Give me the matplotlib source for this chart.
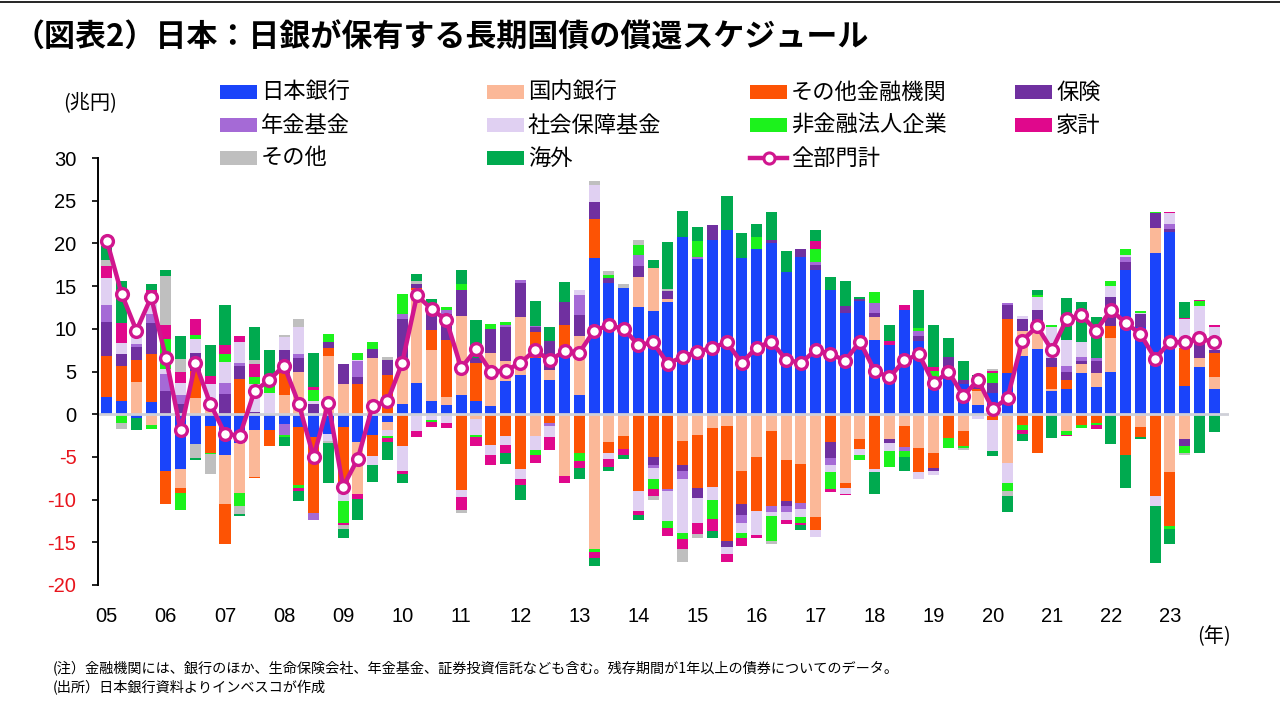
import matplotlib
matplotlib.use("Agg")
import matplotlib.pyplot as plt
from matplotlib.patches import Rectangle
from matplotlib.lines import Line2D
import numpy as np

JP = ['Noto Sans CJK JP', 'DejaVu Sans']
NUM = ['Liberation Sans', 'DejaVu Sans']

year_labels = ['05', '06', '07', '08', '09', '10', '11', '12', '13', '14',
               '15', '16', '17', '18', '19', '20', '21', '22', '23']

series_names = ['日本銀行', '国内銀行', 'その他金融機関', '保険', '年金基金',
                '社会保障基金', '非金融法人企業', '家計', 'その他', '海外']
series_colors = ['#1a44fa', '#fbb898', '#fd5304', '#7030a0', '#a56ad6',
                 '#e0d0f2', '#1cf21c', '#e0088c', '#bfbfbf', '#00aa4f']
line_name = '全部門計'
line_color = '#d0168e'

boj = [2.0, 1.6, -0.5, 1.4, -6.7, -6.4, -3.5, -1.4, -4.8, -3.4, -1.8, -1.8, -1.2,
       -1.5, -2.65, -2.3, -1.5, -3.2, -2.4, -0.9, 1.25, 3.7, 1.5, 1.1, 2.3, 1.6,
       1.0, 3.9, 4.6, 6.6, 4.0, 7.0, 2.3, 18.3, 15.4, 14.8, 12.6, 12.1, 13.1, 20.8,
       18.2, 20.4, 21.6, 18.3, 19.4, 20.0, 16.7, 18.4, 16.9, 14.5, 11.9, 13.2, 8.7,
       8.1, 12.2, 8.6, 4.3, 4.7, 3.5, 1.1, 2.5, 4.8, 6.8, 7.6, 2.7, 3.0, 4.8, 3.2,
       4.9, 16.9, 10.2, 18.9, 21.3, 3.3, 5.5, 3.0]
dom_bank = [0, 0, 3.8, -1.25, 0, -2.2, 1.9, 1.5, -5.7, -5.8, -5.6, 0, 2.3,
            5.0, 0, 6.8, 3.5, -6.2, 6.6, -0.9, 5.35, 10.8, 6.0, 0.9, 9.2, -0.6,
            6.2, 2.3, 6.8, -2.5, 1.2, -7.2, 6.9, -15.8, -3.2, -2.5, 3.5, 5.0, 0.4, -3.1,
            -2.4, -1.6, -1.4, -6.6, -5.0, -2.0, -5.35, -5.8, -12.0, 0, -8.0, -2.9, 2.7,
            -2.9, -1.4, -3.9, -4.5, 0, -2.0, 1.6, 0, -5.7, 3.0, 2.1, 0.3, -2.0, 1.1, 1.6,
            4.0, 0, -1.5, 2.9, -6.8, -2.9, 1.1, 1.3]
other_fin = [4.8, 4.1, 2.6, 5.6, -3.8, -0.6, 3.2, -3.1, -4.7, 4.1, -0.1, -1.9, 2.5,
             -6.8, -8.95, 1.0, -7.3, 3.5, -2.5, 4.6, -3.7, 0.3, 2.4, 6.7, -8.9, 4.4,
             -3.6, -2.6, -6.45, 3.0, -1.0, 3.5, -4.6, 4.5, -1.4, -1.6, -9.0, -5.0, -8.8, -2.8,
             -6.3, -6.9, -13.5, -3.9, -6.3, -8.7, -4.85, -4.55, -1.6, -3.2, -0.6, -1.2, -6.45,
             0, -2.4, -2.9, -1.75, -2.8, -1.7, 0.3, -0.7, 6.3, -1.25, -4.5, 2.5, 1.0, -1.25, -1.0,
             1.4, -4.8, -1.2, -9.6, -6.3, 4.5, 0, 2.9]
insurance = [4.0, 1.3, 1.5, 3.7, 2.7, 1.2, 2.1, 0, 2.4, 1.6, 0.2, 0, 2.7,
             1.6, 1.2, 0.6, 2.4, 0.9, 1.0, 1.7, 4.5, 0.4, 2.2, 3.0, 3.1, 0.6,
             2.8, 4.0, 4.0, 0.6, 3.4, 2.6, 2.4, 2.1, 0.5, 0, 1.2, -0.9, 0.95, -0.8,
             -1.1, 1.7, -0.7, -1.3, 0, 0.4, -0.5, 0.9, 0.6, -1.9, 0.8, 0.3, 0.5,
             -0.5, 0, 0.5, -0.45, 2.0, 0.5, 0.8, 1.1, 1.7, 1.3, 2.5, 1.1, 1.0, 0.35, 1.4,
             3.45, 0.9, 1.5, 1.8, 0.4, -0.8, 1.7, 0.3]
pension = [2.0, 0, 0.3, 1.0, 2.0, 1.1, 0, 0, 1.2, 0.3, 0, 0, -1.2,
           0.4, -0.8, 0, 0, 1.8, 0, 0, 0.6, 0, 0, 0.5, 0, 0,
           0, 0.3, 0.3, 0.15, -0.4, 0, 2.4, 0, 0, 0, 1.4, -0.35, -0.2, -0.9,
           0.2, 0, 0, -0.9, 0, -0.7, -0.8, -0.75, 0.3, -0.8, 0, 0, 1.1,
           0, -0.5, 0.7, 0, 0, 0, 0, 0, 0.2, 0, 0, 0, 0.7, 0.4, 0.4,
           0, 0.6, 0, 0, 0.6, 0, 0, 0]
soc_sec = [3.1, 1.3, 2.0, 1.3, 0.6, 1.4, 1.6, 2.0, 2.5, 2.5, 3.3, 2.5, 1.5,
           3.2, 0.4, -0.8, -1.4, 0.2, -1.0, -0.7, -2.9, -2.0, -0.7, -1.0, -0.8, -1.8,
           -1.2, -1.0, -1.15, -1.7, -1.25, 0, 0.6, 1.9, -0.6, 0, -2.3, -1.35, -3.5, -6.3,
           -2.9, -1.5, -0.8, -1.2, -2.8, -0.5, -0.9, -0.9, -0.8, -0.9, -0.8, -0.7, -0.35,
           -0.9, 0, -0.8, -0.4, 0, 0, -0.6, -3.6, -2.3, 0.4, 1.5, 3.6, 3.0, 1.85, 0,
           1.25, 0.2, 0.2, -1.1, 1.3, 3.3, 4.4, 2.7]
nonfin = [0, -1.0, 0, -0.45, 3.5, -2.05, 0.5, -0.2, 1.0, -1.5, 0.8, 1.0, -0.3,
          -0.3, 1.2, 1.0, -2.5, 0.8, 0.9, -0.3, 2.4, 0, -0.2, 0.4, 0.6, -0.3,
          0.6, 0.3, 0, -0.6, 0, 0, -0.9, -0.3, 0.4, 0, 1.1, -1.2, -0.8, -0.7,
          1.9, -2.3, 0, -0.6, 1.3, -3.0, 0, -0.7, 1.5, -2.0, 0, -0.6, 1.3,
          -1.9, -0.7, 0.3, 0.8, -1.1, -0.2, 0, 1.2, -1.0, -0.65, 0.3, 0.2, -0.4, -0.35, -0.3,
          0.6, 0.7, 0.2, 0.1, -0.4, -0.8, 0.5, 0]
household = [1.5, 2.4, 0, 1.6, 1.7, 1.3, 1.8, 1.0, 1.0, 0.7, 1.6, 0.3, 0,
             -0.4, 0.4, 0, -0.3, -0.5, 0, -0.5, -0.4, -0.7, -0.6, -0.6, -1.55, -1.0,
             -1.1, -0.9, -0.7, -0.9, -1.55, -0.8, -0.8, -0.7, -1.0, -0.7, -0.5, -0.8, -1.0, -1.2,
             -1.3, -1.4, -0.9, -0.9, -0.4, 0, -0.4, -0.3, 1.0, -0.3, -0.1, 0, 0,
             0.5, 0.6, 0, 0.4, 0, 0, 0, 0.3, 0, -0.4, 0, 0, -0.2, 0, -0.45,
             0, 0, 0, 0, 0.1, 0.2, 0.2, 0.3]
others = [0.6, -0.7, 0, 0, 5.7, 1.5, -1.6, -2.3, 0, -1.0, 0.4, 0, 0.3,
          0.9, 0, -0.3, -0.5, 0, 0, 0.4, 0, 0.4, 0, 0, -0.35, 0,
          0, 0, 0, 0, 0, 0, 0, 0.5, 0.5, 0.4, 0.6, -0.4, 0.25, -1.5,
          -0.5, 0, 0, 0, 0, -0.3, 0, 0, 0, 0, 0, 0, 0,
          0, 0, 0, 0, 0, -0.3, 0, 0.2, -0.6, 0, 0, 0, 0, 0, 0,
          0, 0, 0, 0, 0, -0.3, 0, 0]
foreign = [1.7, 4.9, -1.3, 0.6, 0.7, 2.7, -0.3, 3.6, 4.7, -0.2, 3.9, 3.7, -1.0,
           -1.2, 4.0, -4.7, -1.0, -2.5, -2.0, -2.1, -1.1, 0.8, 1.4, 0, 1.7, 4.4,
           0, -1.3, -1.8, 2.85, 1.6, 2.4, -1.3, -1.0, -0.4, -0.5, -0.6, 1.0, 5.5, 3.0,
           1.6, -0.8, 3.9, 2.9, 1.6, 3.3, 2.4, -0.6, 1.3, 1.6, 2.9, 0.25, -2.5,
           1.9, -1.7, 4.4, 5.0, 2.2, 2.25, 0.8, -0.6, -1.9, -0.8, 0.5, -2.8, 4.9, 4.6, 4.8,
           -3.5, -3.9, -0.2, -6.7, -1.7, 1.8, -4.6, -2.1]

total = [20.3, 14.1, 9.8, 13.7, 6.6, -1.9, 6.0, 1.25, -2.3, -2.5, 2.7, 4.0, 5.7,
         1.2, -5.0, 1.3, -8.5, -5.2, 1.0, 1.5, 6.0, 13.9, 12.3, 11.0, 5.4, 7.6,
         5.0, 5.1, 6.0, 7.5, 6.3, 7.4, 7.2, 9.8, 10.4, 10.0, 8.1, 8.4, 5.9, 6.75,
         7.3, 7.8, 8.4, 6.0, 7.8, 8.5, 6.4, 6.0, 7.5, 7.1, 6.25, 8.5, 5.1,
         4.3, 6.3, 7.0, 3.6, 5.0, 2.15, 4.0, 0.6, 1.9, 8.6, 10.3, 7.5, 11.1, 11.6, 9.8,
         12.2, 10.7, 9.4, 6.5, 8.5, 8.4, 8.9, 8.4]

series = [boj, dom_bank, other_fin, insurance, pension, soc_sec, nonfin,
          household, others, foreign]

n = len(total)
x = np.arange(n)

fig = plt.figure(figsize=(12.8, 7.2), dpi=100)
W, H = 1280.0, 720.0

ax = fig.add_axes([98 / W, 1 - 585 / H, (1229 - 98) / W, (585 - 158) / H])

pos_bottom = np.zeros(n)
neg_bottom = np.zeros(n)
for vals, col in zip(series, series_colors):
    v = np.array(vals, dtype=float)
    p = np.where(v > 0, v, 0)
    q = np.where(v < 0, v, 0)
    ax.bar(x, p, width=0.75, bottom=pos_bottom, color=col, zorder=2, linewidth=0)
    ax.bar(x, q, width=0.75, bottom=neg_bottom, color=col, zorder=2, linewidth=0)
    pos_bottom += p
    neg_bottom += q

ax.axhline(0, color='#cfd0d8', lw=2.0, zorder=2.5)
ax.plot(x, total, color=line_color, lw=3.2, marker='o', ms=8.5,
        mfc='white', mec=line_color, mew=2.4, zorder=4)

ax.set_xlim(-0.6, 76)
ax.set_ylim(-20, 30)
yt = np.arange(-20, 31, 5)
ax.set_yticks(yt)
ax.set_yticklabels([str(v) for v in yt], fontfamily=NUM, fontsize=14.5)
for lab, v in zip(ax.get_yticklabels(), yt):
    lab.set_color('#e8141c' if v < 0 else 'black')
ax.set_xticks(np.arange(0, n, 4))
ax.set_xticklabels(year_labels, fontfamily=NUM, fontsize=14.5)
ax.tick_params(axis='x', length=0, pad=16)
ax.tick_params(axis='y', direction='out', length=4.5, width=1.2, pad=11)
for s in ['top', 'right', 'bottom']:
    ax.spines[s].set_visible(False)
ax.spines['left'].set_linewidth(1.4)

# top rule
fig.add_artist(Line2D([0, 1], [1 - 2 / H, 1 - 2 / H], color='black', lw=1.2))

fig.text(14 / W, 1 - 38 / H, '（図表2）日本：日銀が保有する長期国債の償還スケジュール',
         fontfamily=JP, fontsize=22.3, fontweight='bold', va='center', ha='left')

fig.text(90 / W, 1 - 103 / H, '(兆円)', fontfamily=JP, fontsize=14.5,
         va='center', ha='center')
fig.text(1214 / W, 1 - 637 / H, '(年)', fontfamily=JP, fontsize=14.5,
         va='center', ha='center')

# legend (row-wise layout)
col_x = [220, 487, 750, 1015]
row_y = [92, 125, 158]
entries = list(zip(series_names, series_colors)) + [(line_name, None)]
for i, (name, col) in enumerate(entries):
    r, c = divmod(i, 4)
    x0 = col_x[c]
    yc = row_y[r]
    if col is not None:
        fig.add_artist(Rectangle((x0 / W, 1 - (yc + 6.5) / H), 37 / W, 13 / H,
                                 facecolor=col, edgecolor='none',
                                 transform=fig.transFigure))
    else:
        fig.add_artist(Line2D([x0 / W, (x0 + 37) / W], [1 - yc / H, 1 - yc / H],
                              color=line_color, lw=3.2,
                              transform=fig.transFigure))
        fig.add_artist(Line2D([(x0 + 18.5) / W], [1 - yc / H], color=line_color,
                              lw=0, marker='o', ms=8, mfc='white', mec=line_color,
                              mew=2.2, transform=fig.transFigure))
    fig.text((x0 + 41) / W, 1 - yc / H, name, fontfamily=JP, fontsize=16,
             va='center', ha='left')

fig.text(53 / W, 1 - 668 / H,
         '(注）金融機関には、銀行のほか、生命保険会社、年金基金、証券投資信託なども含む。残存期間が1年以上の債券についてのデータ。',
         fontfamily=JP, fontsize=10.2, va='center', ha='left')
fig.text(53 / W, 1 - 688 / H, '(出所）日本銀行資料よりインベスコが作成',
         fontfamily=JP, fontsize=10.2, va='center', ha='left')

fig.savefig('out.png', dpi=100)
